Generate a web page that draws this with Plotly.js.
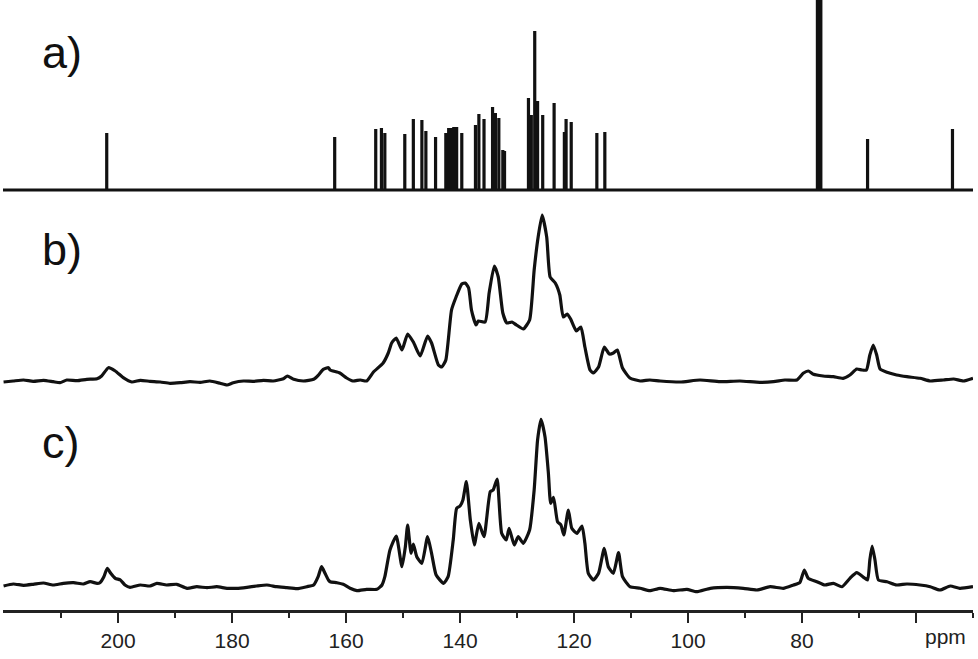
<!DOCTYPE html>
<html>
<head>
<meta charset="utf-8">
<script src="https://cdn.plot.ly/plotly-3.0.1.min.js"></script>
<style>html,body{margin:0;padding:0;background:#fff;}#chart{width:978px;height:659px;}</style>
</head>
<body>
<div id="chart"></div>
<script>
// a) calculated stick spectrum: positions (ppm) and relative heights
const stickPpm = [202.0, 162.0, 154.8, 153.8, 153.2, 149.7, 148.2, 146.7, 146.0, 144.3,
  142.5, 142.0, 141.5, 141.1, 140.6, 139.7, 137.3, 136.7, 135.8, 134.3, 133.8, 133.2,
  132.5, 132.2, 128.0, 127.5, 126.9, 126.4, 125.5, 123.5, 121.7, 121.4, 120.5, 116.0,
  114.6, 77.3, 77.0, 76.7, 68.5, 53.6];
const stickHeight = [57, 53, 61, 62, 57, 56, 71, 70, 59, 53,
  57, 62, 62, 63, 63, 57, 65, 76, 71, 83, 77, 72,
  40, 39, 92, 75, 159, 89, 75, 87, 58, 71, 68, 57,
  58, 260, 260, 260, 51, 61];

// b) spectrum
const bPpm = [220.1, 218.4, 216.6, 214.9, 213.1, 211.4, 210.2, 209.0, 207.2, 205.5, 203.7, 202.9,
  201.7, 200.5, 199.1, 197.6, 196.1, 194.4, 192.6, 190.9, 189.1, 187.4, 185.6, 183.9, 182.1,
  180.9, 179.8, 178.0, 176.3, 174.5, 172.8, 171.0, 170.3, 169.2, 167.5, 165.7, 164.9, 164.0,
  163.1, 162.8, 161.1, 159.9, 158.8, 157.5, 156.4, 155.2, 153.5, 152.6, 152.0, 151.2, 150.2,
  149.2, 148.2, 147.0, 145.7, 145.0, 143.8, 143.2, 142.5, 141.5, 140.7, 139.7, 139.1, 138.5,
  138.0, 137.2, 136.8, 135.6, 134.9, 134.0, 133.3, 132.5, 131.8, 130.9, 130.1, 128.9, 127.8,
  127.0, 126.3, 125.6, 124.8, 124.2, 123.3, 122.5, 121.9, 121.2, 120.6, 119.6, 118.8, 118.1,
  117.2, 116.6, 115.7, 114.7, 113.8, 113.1, 112.4, 111.5, 110.2, 108.4, 106.7, 104.9, 101.4,
  97.9, 94.4, 90.9, 87.4, 85.0, 83.0, 80.9, 79.8, 78.9, 78.0, 76.3, 74.5, 72.8, 71.6, 70.4,
  69.5, 68.7, 68.1, 67.5, 66.9, 66.3, 65.1, 63.4, 61.6, 59.3, 57.5, 55.2, 53.4, 51.7, 50.0];
const bInt = [-1, 0, 1, -0.3, 0.7, -0.7, -1.7, 1, 0.3, 1.7, 2.3, 5,
  13.3, 10, 3.3, -1, 0.7, -0.3, -1, -2.3, -1.7, -0.7, -1.3, 0, -2.3,
  -4, -1.7, 0, -0.3, 0.7, 0, 2.3, 5, 1.7, 0, 1.7, 5.7, 11.7,
  13.3, 11, 8, 3, 0, 1, 0, 9, 18, 28, 38, 43, 31,
  47, 39, 25, 45, 38, 16, 14, 21, 71, 84, 97, 98, 93,
  71, 56, 60, 59, 88, 115, 104, 68, 58, 59, 56, 52, 61,
  111, 144, 166, 144, 104, 98, 86, 64, 67, 62, 50, 54, 34,
  11, 8, 14, 34, 27, 28, 31, 13, 3, 0, 1, 0, -1,
  1, -0.7, 0, -1.3, -0.7, 1, 1, 7.7, 10, 6.7, 5, 4.3, 2.7, 6, 12,
  11, 11, 26, 36, 26, 12, 8.7, 6, 4.3, 2.7, 0, 1, 2, 0, 2.7];

// c) spectrum
const cPpm = [220.1, 218.4, 216.6, 214.9, 213.1, 211.4, 209.6, 207.8, 206.1, 204.9, 203.7, 203.2,
  202.5, 201.9, 201.3, 200.5, 199.6, 198.8, 197.9, 196.1, 194.4, 193.2, 191.5, 189.7, 187.9,
  186.2, 184.4, 182.7, 180.9, 179.2, 177.4, 175.7, 173.9, 172.2, 170.4, 168.6, 166.9, 165.7,
  164.9, 164.3, 163.7, 163.1, 162.8, 161.6, 160.5, 159.3, 158.1, 156.4, 154.6, 153.7, 153.2,
  152.3, 151.2, 150.2, 149.6, 149.2, 148.6, 148.2, 147.6, 146.7, 145.7, 145.0, 144.2, 142.9,
  142.1, 141.2, 140.6, 140.0, 139.5, 138.9, 138.2, 137.5, 136.7, 135.8, 134.7, 134.2, 133.5,
  132.7, 131.9, 131.4, 130.5, 129.8, 128.9, 127.8, 127.0, 126.4, 125.8, 125.1, 124.5, 124.1,
  123.6, 122.9, 122.3, 121.8, 121.0, 120.4, 119.5, 118.6, 118.1, 117.5, 116.6, 115.7, 114.7,
  114.0, 113.1, 112.2, 111.5, 110.2, 108.4, 106.7, 104.9, 102.6, 100.2, 98.5, 96.1, 93.2,
  90.3, 87.9, 85.6, 83.3, 81.5, 80.4, 79.6, 78.9, 77.4, 76.0, 74.5, 73.0, 71.6, 70.4, 69.2,
  68.5, 68.1, 67.7, 67.2, 66.6, 65.1, 63.4, 61.6, 59.3, 57.5, 55.8, 54.0, 52.3, 50.0];
const cInt = [-1, 1, -0.3, 0.7, 2, 0, 1.7, 2.3, 1, 3.3, 1.7, 2.3,
  8.3, 16.7, 11.7, 6.7, 5, 0, -2.3, 0, -1, 1.7, 0, 0.7, -3.3,
  -1.7, -2.7, -1.7, -3.3, -3.3, -2.3, -1, 0, -1.7, -2.7, -3.7, -1.7, 0,
  8.3, 18.3, 11.7, 5, 3.3, 2.3, 0.7, -3.3, -5.7, -4.3, -4.3, 0, 8.3,
  35, 49, 18.3, 38.3, 60, 31.7, 41, 28.3, 21.7, 48.3, 31.7, 10, 1.7,
  8.3, 45, 76.7, 79, 85, 103.3, 65, 40, 61.7, 48.3, 93.3, 95, 106,
  51.7, 45, 56.7, 40, 48.3, 41.7, 55, 95, 145, 165.7, 148.3, 111.7, 81.7,
  87.7, 63.3, 60, 50, 75, 56.7, 51.7, 59, 41.7, 11.7, 5, 11.7, 36.7,
  18.3, 11.7, 32.3, 8.3, -1.7, -3.3, -5.7, -3.3, -5.7, -4.3, -6.7, -3.3, -2.3,
  -3.3, -5, -1.7, -3.3, 0, 2.3, 15, 6.7, 3.3, 0, 1.7, -1.7, 6.7, 12.3, 7.7,
  5, 25, 39, 25, 5, 3.3, 0, 1, 0, -1.7, -5, -1, -3.3, -1.7];

const xTickVals = [200, 180, 160, 140, 120, 100, 80, 60];
const xTickText = ['200', '180', '160', '140', '120', '100', '80', ''];
const xMinorVals = [210, 190, 170, 150, 130, 110, 90, 70, 50];
const panelLabels = ['a)', 'b)', 'c)'];

// build the stick trace from the stick arrays
const order = stickPpm.map((p, i) => i).sort((i, j) => stickPpm[j] - stickPpm[i]);
const ax = [220.2], ay = [0];
order.forEach(i => { ax.push(stickPpm[i], stickPpm[i], stickPpm[i]); ay.push(0, stickHeight[i], 0); });
ax.push(50); ay.push(0);

const lineStyle = {color: '#111', width: 3.2};
const traces = [
  {x: ax, y: ay, type: 'scatter', mode: 'lines', yaxis: 'y3', line: {color: '#111', width: 3.2}, hoverinfo: 'skip'},
  {x: bPpm, y: bInt, type: 'scatter', mode: 'lines', yaxis: 'y2', line: Object.assign({shape: 'spline', smoothing: 0.5}, lineStyle), hoverinfo: 'skip'},
  {x: cPpm, y: cInt, type: 'scatter', mode: 'lines', yaxis: 'y', line: Object.assign({shape: 'spline', smoothing: 0.5}, lineStyle), hoverinfo: 'skip'}
];

// plot height in px is 610; baselines of a, b, c at 190, 381, 585 px from top
const H = 610;
function yax(base) {
  return {range: [base - H, base], visible: false, fixedrange: true, showgrid: false, zeroline: false};
}
const ann = (txt, yPx) => ({text: txt, xref: 'paper', yref: 'paper', x: (40 - 3) / 970, y: 1 - yPx / H,
  xanchor: 'left', yanchor: 'middle', showarrow: false,
  font: {family: 'Liberation Sans, Arial, sans-serif', size: 45, color: '#111'}});

const layout = {
  width: 978, height: 659,
  margin: {l: 3, r: 5, t: 0, b: 49},
  paper_bgcolor: '#fff', plot_bgcolor: '#fff',
  showlegend: false,
  xaxis: {
    range: [220.2, 50], showgrid: false, zeroline: false,
    showline: true, linecolor: '#222', linewidth: 2.5,
    tickmode: 'array', tickvals: xTickVals, ticktext: xTickText,
    ticks: 'outside', ticklen: 10, tickwidth: 2, tickcolor: '#222',
    minor: {tickmode: 'array', tickvals: xMinorVals, ticks: 'outside', ticklen: 5, tickwidth: 2, tickcolor: '#222', showgrid: false},
    tickfont: {family: 'Liberation Sans, Arial, sans-serif', size: 21, color: '#222'},
    fixedrange: true
  },
  yaxis: yax(585),
  yaxis2: Object.assign(yax(381), {overlaying: 'y'}),
  yaxis3: Object.assign(yax(190), {overlaying: 'y'}),
  annotations: [
    ann(panelLabels[0], 52), ann(panelLabels[1], 249), ann(panelLabels[2], 442),
    {text: 'ppm', xref: 'paper', yref: 'paper', x: (945 - 3) / 970, y: -(637 - H) / H, xanchor: 'center', yanchor: 'middle',
     showarrow: false, font: {family: 'Liberation Sans, Arial, sans-serif', size: 21, color: '#222'}}
  ]
};

Plotly.newPlot('chart', traces, layout, {displayModeBar: false, staticPlot: true});
</script>
</body>
</html>
